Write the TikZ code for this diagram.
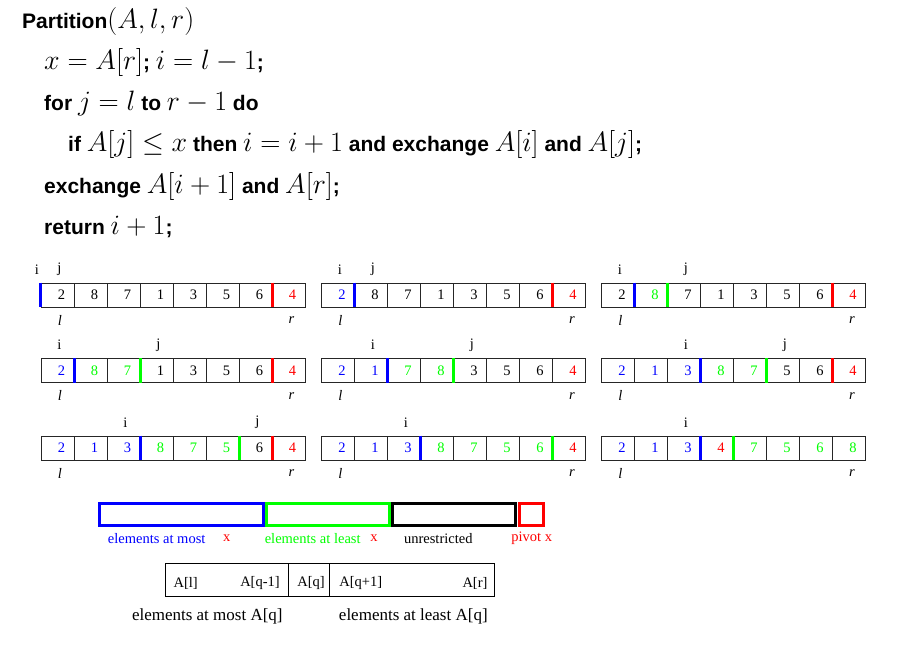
\RequirePackage{fix-cm}
\documentclass[tikz,border=0pt]{standalone}
\usepackage[no-math]{fontspec}
\setmainfont{Liberation Serif}
\newfontfamily\hdfont{Liberation Sans}
\usepackage{tikz}
\usetikzlibrary{positioning}

\newcommand{\mth}[1]{{\fontsize{28}{32}\selectfont$#1$}}
\newcommand{\partarr}[4]{%
	\foreach \c/\v [count=\k] in {#4}
		\node [cell, text=\c] (#1-\k) at ({#2+(\k-0.5)*33}, {#3+12}) {\hspace*{8pt}\v};
}
\newcommand{\cut}[2]{\draw [#1, sepline] (#2.north east) -- (#2.south east);}

\begin{document}
\begin{tikzpicture}[x=1pt, y=-1pt,
	cell/.style={draw=black!85, line width=0.7pt, minimum width=33pt, minimum height=24pt, inner sep=0pt, font=\fontsize{14.5}{17}\selectfont},
	sepline/.style={line width=3pt},
	idx/.style={inner sep=0pt, font=\fontsize{14.5}{17}\selectfont},
	code/.style={anchor=base west, inner sep=0pt, font=\hdfont\bfseries\fontsize{21}{25}\selectfont},
	legbox/.style={line width=3pt},
	legtext/.style={inner sep=0pt, font=\fontsize{14.5}{17}\selectfont},
	subtext/.style={inner sep=0pt, font=\fontsize{17}{20}\selectfont}]
	\useasboundingbox (0,0) rectangle (900,663);

	% pseudo code
	\node [code] (L1) at (22, 29) {Partition\mth{(A, l, r)}};
	\node [code] (L2) at (44, 70) {\mth{x = A[r]}; \mth{i = l - 1};};
	\node [code] (L3) at (44, 111) {for \mth{j = l} to \mth{r - 1} do};
	\node [code] (L4) at (68, 152) {if \mth{A[j] \leq x} then \mth{i = i + 1} and exchange \mth{A[i]} and \mth{A[j]};};
	\node [code] (L5) at (44, 194) {exchange \mth{A[i + 1]} and \mth{A[r]};};
	\node [code] (L6) at (44, 235) {return \mth{i + 1};};

	% row 1
	\partarr{A11}{41}{283}{black/2, black/8, black/7, black/1, black/3, black/5, black/6, red/4}
	\draw [blue, sepline] (A11-1.north west) -- (A11-1.south west);
	\cut{red}{A11-7}
	\node [idx] (A11i) at (37, 270) {i};
	\node [idx] (A11j) at ([xshift=2pt, yshift=13pt]A11-1.north) {j};

	\partarr{A12}{321.5}{283}{blue/2, black/8, black/7, black/1, black/3, black/5, black/6, red/4}
	\cut{blue}{A12-1}
	\cut{red}{A12-7}
	\node [idx] (A12i) at ([xshift=2pt, yshift=13pt]A12-1.north) {i};
	\node [idx] (A12j) at ([xshift=2pt, yshift=13pt]A12-2.north) {j};

	\partarr{A13}{601.5}{283}{black/2, green/8, black/7, black/1, black/3, black/5, black/6, red/4}
	\cut{blue}{A13-1}
	\cut{green}{A13-2}
	\cut{red}{A13-7}
	\node [idx] (A13i) at ([xshift=2pt, yshift=13pt]A13-1.north) {i};
	\node [idx] (A13j) at ([xshift=2pt, yshift=13pt]A13-3.north) {j};

	% row 2
	\partarr{A21}{41}{358.5}{blue/2, green/8, green/7, black/1, black/3, black/5, black/6, red/4}
	\cut{blue}{A21-1}
	\cut{green}{A21-3}
	\cut{red}{A21-7}
	\node [idx] (A21i) at ([xshift=2pt, yshift=13pt]A21-1.north) {i};
	\node [idx] (A21j) at ([xshift=2pt, yshift=13pt]A21-4.north) {j};

	\partarr{A22}{321.5}{358.5}{blue/2, blue/1, green/7, green/8, black/3, black/5, black/6, red/4}
	\cut{blue}{A22-2}
	\cut{green}{A22-4}
	\node [idx] (A22i) at ([xshift=2pt, yshift=13pt]A22-2.north) {i};
	\node [idx] (A22j) at ([xshift=2pt, yshift=13pt]A22-5.north) {j};

	\partarr{A23}{601.5}{358.5}{blue/2, blue/1, blue/3, green/8, green/7, black/5, black/6, red/4}
	\cut{blue}{A23-3}
	\cut{green}{A23-5}
	\cut{red}{A23-7}
	\node [idx] (A23i) at ([xshift=2pt, yshift=13pt]A23-3.north) {i};
	\node [idx] (A23j) at ([xshift=2pt, yshift=13pt]A23-6.north) {j};

	% row 3
	\partarr{A31}{41}{436}{blue/2, blue/1, blue/3, green/8, green/7, green/5, black/6, red/4}
	\cut{blue}{A31-3}
	\cut{green}{A31-6}
	\cut{red}{A31-7}
	\node [idx] (A31i) at ([xshift=2pt, yshift=13pt]A31-3.north) {i};
	\node [idx] (A31j) at ([xshift=2pt, yshift=13pt]A31-7.north) {j};

	\partarr{A32}{321.5}{436}{blue/2, blue/1, blue/3, green/8, green/7, green/5, green/6, red/4}
	\cut{blue}{A32-3}
	\cut{green}{A32-7}
	\node [idx] (A32i) at ([xshift=2pt, yshift=13pt]A32-3.north) {i};

	\partarr{A33}{601.5}{436}{blue/2, blue/1, blue/3, red/4, green/7, green/5, green/6, green/8}
	\cut{blue}{A33-3}
	\cut{green}{A33-4}
	\node [idx] (A33i) at ([xshift=2pt, yshift=13pt]A33-3.north) {i};

	% l and r under every array
	\foreach \a in {A11, A12, A13, A21, A22, A23, A31, A32, A33} {
		\node [idx] (\a-l) at ([xshift=2.5pt, yshift=-13pt]\a-1.south) {\textit{l}};
		\node [idx] (\a-r) at ([xshift=3pt, yshift=-13pt]\a-8.south) {\textit{r}};
	}

	% legend
	\draw [legbox, blue] (99.5, 503) rectangle (263, 525.5);
	\draw [legbox, green] (266, 503) rectangle (389, 525.5);
	\draw [legbox, black] (392.5, 503) rectangle (515, 525.5);
	\draw [legbox, red] (519.5, 503) rectangle (543, 525.5);
	\node [legtext, text=blue] (most) at (156.7, 538.3) {elements at most};
	\node [legtext, text=red] (mostx) at (226.7, 538.3) {x};
	\node [legtext, text=green] (least) at (312.7, 538.3) {elements at least};
	\node [legtext, text=red] (leastx) at (374, 538.3) {x};
	\node [legtext] (unres) at (438.3, 538.3) {unrestricted};
	\node [legtext, text=red] (pivot) at (531.7, 538.3) {pivot x};

	% result of partition
	\draw [line width=0.8pt] (165, 563.3) rectangle (494.3, 596.7);
	\draw [line width=0.8pt] (288.3, 563.3) -- (288.3, 596.7);
	\draw [line width=0.8pt] (329.3, 563.3) -- (329.3, 596.7);
	\node [legtext] (Al) at (185.7, 583.5) {A[l]};
	\node [legtext] (Aqm) at (260, 583.5) {A[q-1]};
	\node [legtext] (Aq) at (311, 583.5) {A[q]};
	\node [legtext] (Aqp) at (360.7, 583.5) {A[q+1]};
	\node [legtext] (Ar) at (475, 583.5) {A[r]};
	\node [subtext] (low) at (207.3, 616.7) {elements at most A[q]};
	\node [subtext] (high) at (413.3, 616.7) {elements at least A[q]};
\end{tikzpicture}
\end{document}
